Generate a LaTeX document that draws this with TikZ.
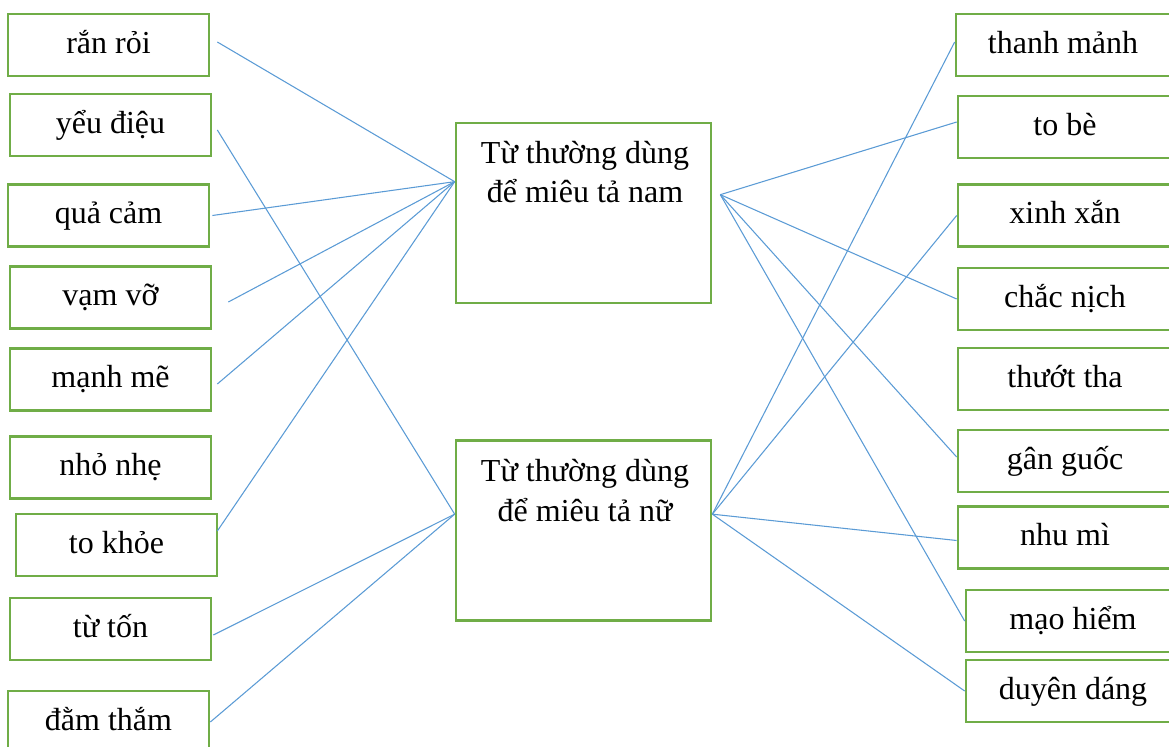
\documentclass[tikz,border=0pt]{standalone}
\usepackage{fontspec}
\setmainfont{Liberation Serif}
\usetikzlibrary{calc}
\definecolor{boxgreen}{HTML}{70AD47}
\definecolor{linkblue}{HTML}{5B9BD5}
\tikzset{
  wordbox/.style={draw=boxgreen, line width=2pt, inner sep=0pt,
    minimum width=201*0.75pt, minimum height=62*0.75pt,
    font=\fontsize{24pt}{29pt}\selectfont, text height=17pt, text depth=4.5pt},
  rightbox/.style={wordbox, minimum width=214*0.75pt},
  bigbox/.style={draw=boxgreen, line width=2pt, inner sep=0pt,
    minimum width=255*0.75pt, minimum height=180*0.75pt},
  bigtext/.style={font=\fontsize{24pt}{29pt}\selectfont, anchor=base, inner sep=0pt},
  link/.style={draw=linkblue, line width=0.8pt}
}
\begin{document}
\begin{tikzpicture}[x=0.75pt, y=-0.75pt]
\useasboundingbox (0,0) rectangle (1169,746);
% left column
\node[wordbox] (ran)    at (108.5,45)   {rắn rỏi};
\node[wordbox] (yeu)    at (110.5,125)  {yểu điệu};
\node[wordbox] (qua)    at (108.5,215.5){quả cảm};
\node[wordbox] (vam)    at (110.5,297.5){vạm vỡ};
\node[wordbox] (manh)   at (110.5,379.5){mạnh mẽ};
\node[wordbox] (nho)    at (110.5,467.5){nhỏ nhẹ};
\node[wordbox] (tokhoe) at (116.5,545)  {to khỏe};
\node[wordbox] (tuton)  at (110.5,629)  {từ tốn};
\node[wordbox] (dam)    at (108.5,722)  {đằm thắm};
% right column
\node[rightbox] (thanh)  at (1063,45)   {thanh mảnh};
\node[rightbox] (tobe)   at (1065,127)  {to bè};
\node[rightbox] (xinh)   at (1065,215.5){xinh xắn};
\node[rightbox] (chac)   at (1065,299)  {chắc nịch};
\node[rightbox] (thuot)  at (1065,379)  {thướt tha};
\node[rightbox] (gan)    at (1065,461)  {gân guốc};
\node[rightbox] (nhu)    at (1065,537.5){nhu mì};
\node[rightbox] (mao)    at (1073,621)  {mạo hiểm};
\node[rightbox] (duyen)  at (1073,691)  {duyên dáng};
% centre boxes
\node[bigbox] (nam) at (583.5,213) {};
\node[bigtext] (nam1) at (585,163) {Từ thường dùng};
\node[bigtext] (nam2) at (585,202) {để miêu tả nam};
\node[bigbox] (nu) at (583.5,530.5) {};
\node[bigtext] (nu1) at (585,481) {Từ thường dùng};
\node[bigtext] (nu2) at (585,521) {để miêu tả nữ};
% convergence points
\coordinate (namL) at ($(nam.north west)+(0,60)$);
\coordinate (namR) at ($(nam.north east)+(8,73)$);
\coordinate (nuL)  at ($(nu.north west)+(0,75)$);
\coordinate (nuR)  at ($(nu.north east)+(0,75)$);
% left links
\draw[link] ($(ran.east)+(7,-3)$) -- (namL);
\draw[link] ($(qua.east)+(2,0)$) -- (namL);
\draw[link] ($(vam.east)+(16,4.5)$) -- (namL);
\draw[link] ($(manh.east)+(5,4.5)$) -- (namL);
\draw[link] ($(tokhoe.east)+(-1,-14)$) -- (namL);
\draw[link] ($(yeu.east)+(5,5)$) -- (nuL);
\draw[link] ($(tuton.east)+(1,6)$) -- (nuL);
\draw[link] (dam.east) -- (nuL);
% right links
\draw[link] (namR) -- ($(tobe.west)+(0,-5)$);
\draw[link] (namR) -- (chac.west);
\draw[link] (namR) -- ($(gan.west)+(0,-4)$);
\draw[link] (namR) -- (mao.west);
\draw[link] (nuR) -- ($(thanh.west)+(0,-3)$);
\draw[link] (nuR) -- (xinh.west);
\draw[link] (nuR) -- ($(nhu.west)+(0,3)$);
\draw[link] (nuR) -- (duyen.west);
\end{tikzpicture}
\end{document}
